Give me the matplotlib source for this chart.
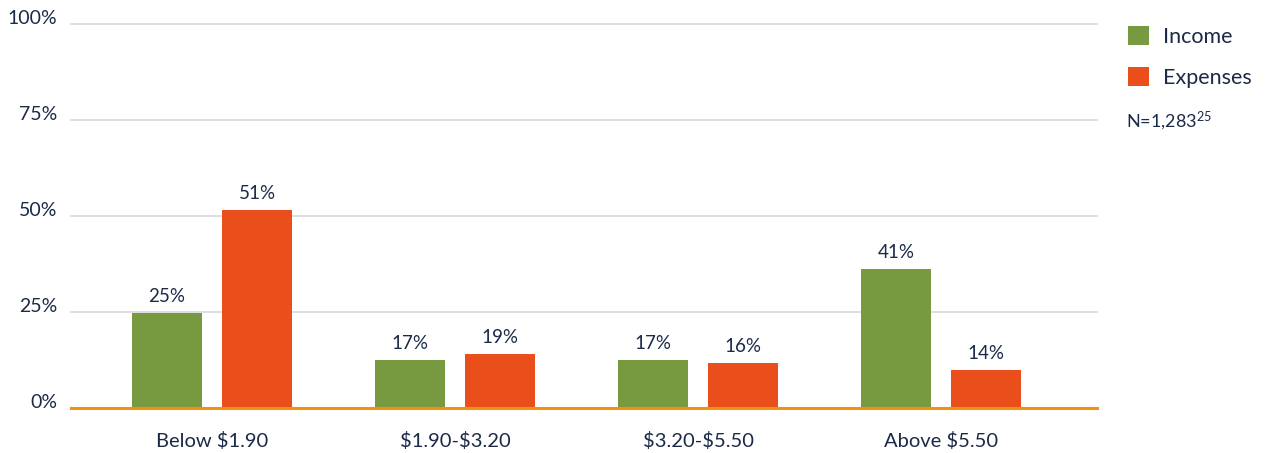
import matplotlib
matplotlib.use("Agg")
import matplotlib.pyplot as plt
import numpy as np

categories = ["Below $1.90", "$1.90-$3.20", "$3.20-$5.50", "Above $5.50"]
income_heights = [24.7, 12.5, 12.5, 36.2]
expenses_heights = [51.6, 14.1, 11.7, 9.9]
income_labels = ["25%", "17%", "17%", "41%"]
expenses_labels = ["51%", "19%", "16%", "14%"]
series_names = ["Income", "Expenses"]
yticks = [0, 25, 50, 75, 100]
ytick_labels = ["0%", "25%", "50%", "75%", "100%"]
note_text = "N=1,283"
note_sup = "25"

GREEN = "#779A41"
ORANGE = "#E94E1B"
TEXT = "#1B2A47"
GRID = "#D5D9DC"
BASE = "#F0920E"

plt.rcParams["font.family"] = ["Lato", "DejaVu Sans"]
plt.rcParams["mathtext.default"] = "regular"

fig = plt.figure(figsize=(12.69, 4.53), dpi=100)
ax = fig.add_axes([71 / 1269, 1 - 408 / 453, (1097 - 71) / 1269, 384 / 453])

x = np.arange(len(categories))
w = 0.288
off = 0.185
b1 = ax.bar(x - off, income_heights, w, color=GREEN, label=series_names[0], zorder=3)
b2 = ax.bar(x + off, expenses_heights, w, color=ORANGE, label=series_names[1], zorder=3)

for bars, labels in ((b1, income_labels), (b2, expenses_labels)):
    for r, lab in zip(bars, labels):
        ax.annotate(lab, (r.get_x() + r.get_width() / 2, r.get_height()),
                    xytext=(0, 8), textcoords="offset points", ha="center",
                    va="baseline", fontsize=13.5, color=TEXT)

ax.set_xlim(-0.58, 3.64)
ax.set_ylim(0, 100)
ax.set_yticks(yticks)
ax.set_yticklabels(ytick_labels)
ax.set_xticks(x)
ax.set_xticklabels([c.replace("$", r"\$") for c in categories])
ax.tick_params(axis="y", length=0, pad=10, labelsize=14, labelcolor=TEXT)
ax.tick_params(axis="x", length=0, pad=17, labelsize=14.5, labelcolor=TEXT)
for t in ax.get_yticklabels():
    t.set_va("baseline")

ax.grid(axis="y", color=GRID, linewidth=1.2, zorder=0)
for t in ax.yaxis.get_gridlines():
    t.set_clip_on(False)
for s in ("left", "right", "top"):
    ax.spines[s].set_visible(False)
ax.spines["bottom"].set_color(BASE)
ax.spines["bottom"].set_linewidth(2.2)
ax.spines["bottom"].set_zorder(4)

leg = fig.legend(handles=[b1, b2], labels=series_names, loc="upper left",
                 bbox_to_anchor=(1124 / 1269, 1 - 22 / 453), frameon=False,
                 fontsize=15.5, handlelength=0.95, handleheight=0.95,
                 labelspacing=0.95, handletextpad=0.65, borderaxespad=0,
                 borderpad=0.2)
for t in leg.get_texts():
    t.set_color(TEXT)

fig.text(1126 / 1269, 1 - 121 / 453, note_text + "$^{" + note_sup + "}$",
         fontsize=13, color=TEXT, va="center", ha="left")

fig.savefig("out.png", dpi=100)
